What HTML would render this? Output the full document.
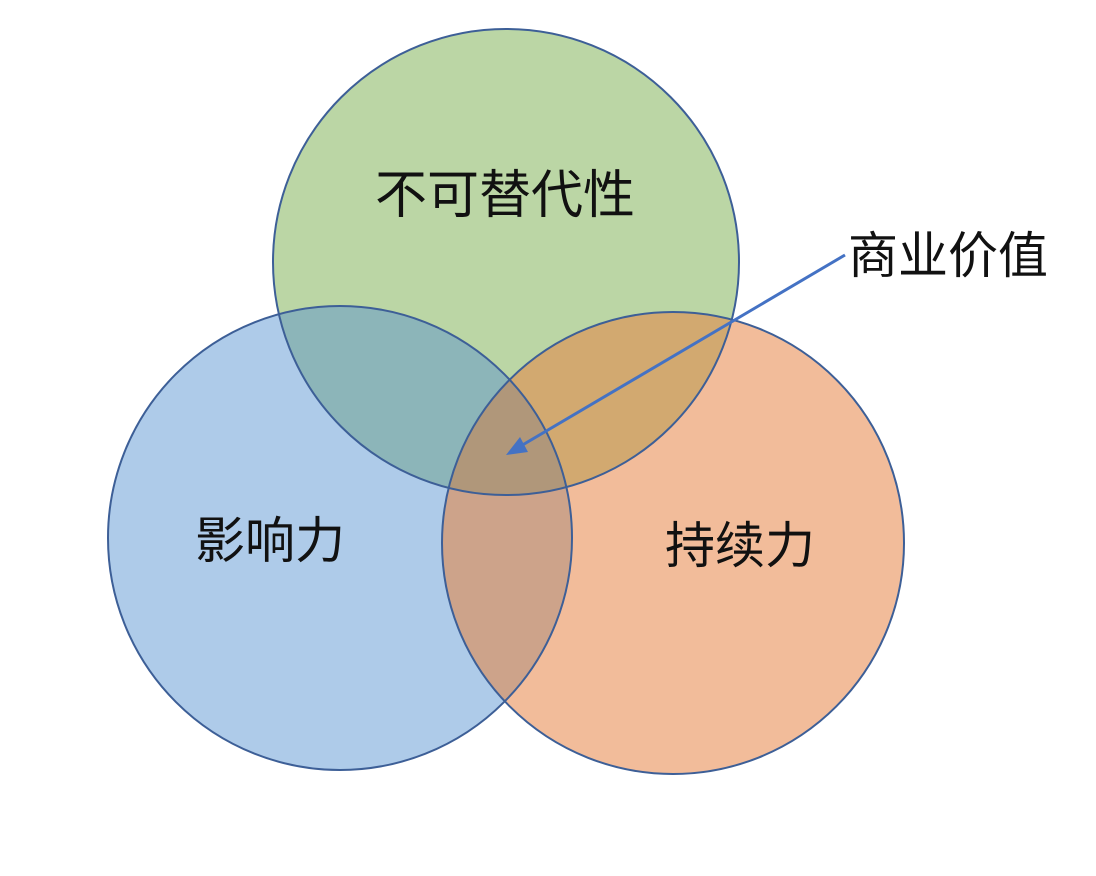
<!DOCTYPE html>
<html><head><meta charset="utf-8"><style>
html,body{margin:0;padding:0;background:#fff;}
svg text{font-family:"Liberation Sans","Noto Sans CJK SC",sans-serif;fill:#111;}
</style></head><body>
<svg width="1096" height="871" viewBox="0 0 1096 871" xmlns="http://www.w3.org/2000/svg">
<defs>
<clipPath id="cg"><circle cx="506" cy="262" r="233"/></clipPath>
<clipPath id="cb"><circle cx="340" cy="538" r="232"/></clipPath>
</defs>
<circle cx="506" cy="262" r="233" fill="#bbd6a5"/>
<circle cx="340" cy="538" r="232" fill="#aecbe9"/>
<circle cx="673" cy="543" r="231" fill="#f2bc9a"/>
<circle cx="340" cy="538" r="232" fill="#8cb5b9" clip-path="url(#cg)"/>
<circle cx="673" cy="543" r="231" fill="#d2a970" clip-path="url(#cg)"/>
<circle cx="673" cy="543" r="231" fill="#cda38a" clip-path="url(#cb)"/>
<g clip-path="url(#cg)"><circle cx="673" cy="543" r="231" fill="#b0977a" clip-path="url(#cb)"/></g>
<g fill="none" stroke="#3d5f97" stroke-width="2">
<circle cx="506" cy="262" r="233"/>
<circle cx="340" cy="538" r="232"/>
<circle cx="673" cy="543" r="231"/>
</g>
<line x1="845" y1="255" x2="514" y2="450" stroke="#4472c4" stroke-width="3"/>
<path d="M506,455 L520,437 L528,452 z" fill="#4472c4"/>
<text x="505" y="213" font-size="52" text-anchor="middle">不可替代性</text>
<text x="848" y="273" font-size="50">商业价值</text>
<text x="270" y="558" font-size="50" text-anchor="middle">影响力</text>
<text x="740" y="563" font-size="50" text-anchor="middle">持续力</text>
</svg>
</body></html>
